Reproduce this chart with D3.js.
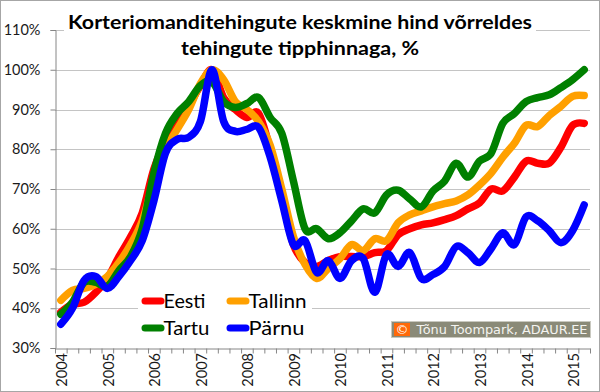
<!DOCTYPE html>
<html>
<head>
<meta charset="utf-8">
<script src="https://cdn.jsdelivr.net/npm/d3@7"></script>
<style>
  html, body { margin: 0; padding: 0; background: #fff; }
  svg { display: block; }
  text { font-family: Lato, "Open Sans", sans-serif; }
</style>
</head>
<body>
<svg id="chart" width="600" height="392"></svg>
<script>
const years = ["2004","2005","2006","2007","2008","2009","2010","2011","2012","2013","2014","2015"];
const quarterNames = ["Q1","Q2","Q3","Q4"];
const lastYearQuarters = 2;
const yTicks = [30,40,50,60,70,80,90,100,110];

const eesti  = [39,41,41.5,44,47.5,53,58,64,75,82,87,91,96,100,93,90,88,89,80,68,56,51.5,50.5,52,53,53,53,54,54.5,58.5,60,61,61.5,62.3,63.3,65,66.5,70,69.5,73,77,76.5,76.5,80.5,86,86.5];
const tallinn= [42,44.5,45,46,48,51.5,56,62,72,80,85,90,96.5,100,97.5,92,90,87,81,70,58,51,47.5,50,52.5,56,54.5,57.5,57,61.5,63.5,64.5,65.5,66.3,67,68.5,71,74,78,81.5,86,85.7,88.5,90.8,93.3,93.5];
const tartu  = [38.5,41.5,46.5,46.5,45.5,49.5,53,60,74,84,89,92,96,97,92,90.5,91.5,93,88,84,72,60,60,57.5,59,62,65,64,68.5,69.7,67.5,65.5,69.5,72,76.5,73,77,79,86.5,89,92,93,93.7,95.5,97.5,100];
const parnu  = [36,40,47,48,45,48,52,57,67,79,82.5,83,87,100,87,84.5,85,85.5,78,67,56,57,49,52,47.5,52,52.5,44,53.5,50.5,54,47.5,48.5,50.5,55.5,54,51.5,55,59,56,63,62,59.5,56.5,59.5,66];

const seriesNames = ["Eesti","Tallinn","Tartu","Pärnu"];
const seriesColors = ["#ff0000","#ffa000","#008000","#0000ff"];
const seriesData = [eesti, tallinn, tartu, parnu];

const titleLines = ["Korteriomanditehingute keskmine hind võrreldes","tehingute tipphinnaga, %"];
const copyrightText = "Tõnu Toompark, ADAUR.EE";

// build quarter categories
const quarters = [];
years.forEach((yr, yi) => {
  const n = yi === years.length - 1 ? lastYearQuarters : 4;
  for (let q = 0; q < n; q++) quarters.push(yr + " " + quarterNames[q]);
});

const svg = d3.select("#chart");
const L = 55, R = 590, T = 30, B = 348;

const x = d3.scaleBand().domain(quarters).range([L, R]).padding(0);
const xb = d3.scaleLinear().domain([0, quarters.length]).range([L, R]);
const y = d3.scaleLinear().domain([30, 110]).range([B, T]);

// outer border
svg.append("rect").attr("x",0.5).attr("y",0.5).attr("width",599).attr("height",391)
  .attr("fill","#fff").attr("stroke","#a6a6a6");

// gridlines
svg.append("g").selectAll("line").data(yTicks.filter(d => d > 30)).join("line")
  .attr("x1", L).attr("x2", R)
  .attr("y1", d => Math.round(y(d)) + 0.5).attr("y2", d => Math.round(y(d)) + 0.5)
  .attr("stroke", "#c4c4c4").attr("stroke-width", 1);

// y axis
const yAxis = svg.append("g").attr("transform", `translate(${L + 0.5},0)`)
  .call(d3.axisLeft(y).tickValues(yTicks).tickFormat(d => d + "%").tickSize(5).tickPadding(10));
yAxis.select(".domain").attr("stroke", "#868686");
yAxis.selectAll(".tick line").attr("stroke", "#868686");
yAxis.selectAll(".tick text").attr("fill", "#1a1a1a").style("font-size", "14.5px")
  .style("font-family", "Lato, sans-serif");

// x axis (ticks at quarter boundaries)
const xAxis = svg.append("g").attr("transform", `translate(0,${B + 0.5})`)
  .call(d3.axisBottom(xb).tickValues(d3.range(quarters.length + 1)).tickFormat("").tickSize(5).tickSizeOuter(0));
xAxis.select(".domain").attr("stroke", "#868686");
xAxis.selectAll(".tick line").attr("stroke", "#868686");

// year labels (rotated)
svg.append("g").selectAll("text").data(years).join("text")
  .attr("transform", d => `translate(${x(d + " Q1") + x.bandwidth()/2 + 1},${B + 5}) rotate(-90)`)
  .attr("text-anchor", "end").attr("dominant-baseline", "central")
  .attr("fill", "#1a1a1a").style("font-size", "14.5px")
  .text(d => d);

// lines
const line = d3.line()
  .x((d, i) => x(quarters[i]) + x.bandwidth()/2)
  .y(d => y(d))
  .curve(d3.curveCardinal.tension(0));

svg.append("g").selectAll("path").data(seriesData).join("path")
  .attr("d", d => line(d))
  .attr("fill", "none")
  .attr("stroke", (d, i) => seriesColors[i])
  .attr("stroke-width", 7.5)
  .attr("stroke-linecap", "round")
  .attr("stroke-linejoin", "round");

// title with white background
svg.append("rect").attr("x", 64).attr("y", 8).attr("width", 472).attr("height", 54).attr("fill", "#fff");
const titleG = svg.append("g");
titleG.append("text").attr("x", 300).attr("y", 28.5).attr("text-anchor", "middle")
  .attr("textLength", 464).attr("lengthAdjust", "spacingAndGlyphs")
  .style("font-size", "19px").style("font-weight", "bold").attr("fill", "#000")
  .text(titleLines[0]);
titleG.append("text").attr("x", 300).attr("y", 55).attr("text-anchor", "middle")
  .attr("textLength", 238).attr("lengthAdjust", "spacingAndGlyphs")
  .style("font-size", "19px").style("font-weight", "bold").attr("fill", "#000")
  .text(titleLines[1]);

// legend
svg.append("rect").attr("x", 138).attr("y", 287).attr("width", 174).attr("height", 57).attr("fill", "#fff");
const legPos = [[145, 301], [230, 301], [145, 328], [230, 328]];
const legLen = [42, 58, 46, 56];
const legG = svg.append("g");
seriesNames.forEach((name, i) => {
  const [lx, ly] = legPos[i];
  legG.append("line").attr("x1", lx).attr("x2", lx + 16).attr("y1", ly).attr("y2", ly)
    .attr("stroke", seriesColors[i]).attr("stroke-width", 7).attr("stroke-linecap", "round");
  legG.append("text").attr("x", lx + 18.5).attr("y", ly + 7)
    .attr("textLength", legLen[i]).attr("lengthAdjust", "spacingAndGlyphs")
    .style("font-size", "20px").attr("fill", "#000").text(name);
});

// copyright box
const cg = svg.append("g");
cg.append("rect").attr("x", 391.5).attr("y", 321.5).attr("width", 199).attr("height", 16)
  .attr("fill", "#8a8a78").attr("stroke", "#c9c9c0");
cg.append("rect").attr("x", 394).attr("y", 323).attr("width", 16).attr("height", 13).attr("fill", "#ff6a0a");
cg.append("text").attr("x", 402).attr("y", 334).attr("text-anchor", "middle")
  .style("font-family", "DejaVu Sans, sans-serif").style("font-size", "13px").attr("fill", "#fff").text("©");
cg.append("text").attr("x", 416.5).attr("y", 334.3)
  .attr("textLength", 171).attr("lengthAdjust", "spacingAndGlyphs")
  .style("font-family", "DejaVu Sans, sans-serif").style("font-size", "13px").attr("fill", "#f4f4f0")
  .text(copyrightText);
</script>
</body>
</html>
